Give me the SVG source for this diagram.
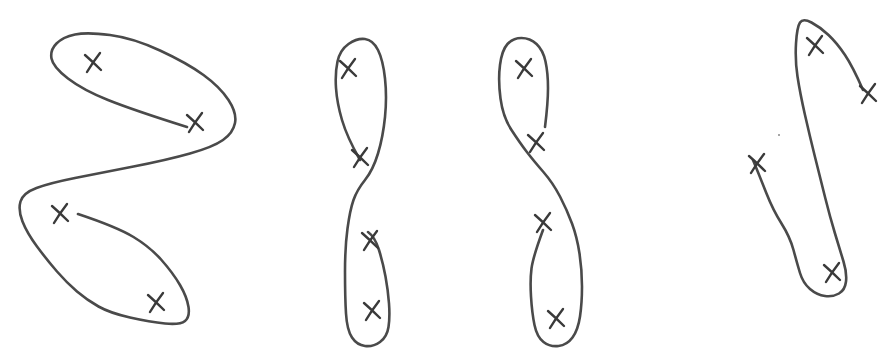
<svg xmlns="http://www.w3.org/2000/svg" xmlns:xlink="http://www.w3.org/1999/xlink" width="895" height="361" viewBox="0 0 895 361">
<style>
.curve{fill:none;stroke:#4a4a4a;stroke-width:2.6;stroke-linecap:round;stroke-linejoin:round}
.mark{fill:none;stroke:#3a3a3a;stroke-width:2.4;stroke-linecap:round}
</style>
<defs>
<path id="x" class="mark" d="M-8,-7 Q0,0 8,8 M7,-9 Q0,0 -6,10"/>
</defs>
<rect width="895" height="361" fill="#ffffff"/>
<g id="figure1">
<path class="curve" d="M187,127 Q133,110 108,100 Q83,90 68,78.5 Q53,67 51.5,58.5 Q50,50 56.5,43.5 Q63,37 75,34.5 Q87,32 110,35 Q133,38 160,50.5 Q187,63 203.5,75 Q220,87 228.5,100 Q237,113 235,123 Q233,133 223,140 Q213,147 190,153.5 Q167,160 133.5,166.5 Q100,173 75,178 Q50,183 36.5,188 Q23,193 20.5,201.5 Q18,210 22.5,221.5 Q27,233 37,246.5 Q47,260 57,271.5 Q67,283 77,291.5 Q87,300 98.5,306.5 Q110,313 130,317.5 Q150,322 165,323.5 Q180,325 185,321 Q190,317 188.5,307 Q187,297 180,285 Q173,273 161.5,260 Q150,247 133.5,237 Q117,227 78,214"/>
<use xlink:href="#x" transform="translate(93,62)"/>
<use xlink:href="#x" transform="translate(195,122)"/>
<use xlink:href="#x" transform="translate(60,213)"/>
<use xlink:href="#x" transform="translate(156,302)"/>
</g>
<g id="figure2">
<path class="curve" d="M360,160 Q347,137 342,120 Q337,103 336,88 Q335,73 337.5,61.5 Q340,50 348.5,44 Q357,38 365,39 Q373,40 378,50 Q383,60 385,78.5 Q387,97 385,117 Q383,137 378,153.5 Q373,170 365,180 Q357,190 353.5,200 Q350,210 347.5,228.5 Q345,247 345,272 Q345,297 346,313.5 Q347,330 352,337.5 Q357,345 365,346 Q373,347 380,342 Q387,337 388.5,327 Q390,317 389,303.5 Q388,290 385.5,276.5 Q383,263 379,250 Q375,237 368,232"/>
<use xlink:href="#x" transform="translate(348,68)"/>
<use xlink:href="#x" transform="translate(360,157)"/>
<use xlink:href="#x" transform="translate(370,240)"/>
<use xlink:href="#x" transform="translate(372,310)"/>
</g>
<g id="figure3">
<path class="curve" d="M545,127 Q548,103 548,88 Q548,73 545.5,61.5 Q543,50 536.5,44 Q530,38 521.5,38 Q513,38 507.5,44 Q502,50 500,65 Q498,80 500.5,98.5 Q503,117 511.5,130 Q520,143 526.5,151.5 Q533,160 543,171.5 Q553,183 560,196.5 Q567,210 572,223.5 Q577,237 579.5,253.5 Q582,270 582,286.5 Q582,303 580,316.5 Q578,330 572.5,337.5 Q567,345 558.5,346 Q550,347 543.5,342 Q537,337 534.5,325 Q532,313 531,296.5 Q530,280 531.5,268.5 Q533,257 543,230"/>
<use xlink:href="#x" transform="translate(524,68)"/>
<use xlink:href="#x" transform="translate(536,142)"/>
<use xlink:href="#x" transform="translate(543,222)"/>
<use xlink:href="#x" transform="translate(556,318)"/>
</g>
<g id="figure4">
<path class="curve" d="M863,90 Q853,67 845,55 Q837,43 828.5,35 Q820,27 811.5,22.5 Q803,18 800,22.5 Q797,27 796,43.5 Q795,60 797.5,76.5 Q800,93 805,115 Q810,137 815,157 Q820,177 825,197 Q830,217 835,233.5 Q840,250 843.5,261.5 Q847,273 846,281.5 Q845,290 839,293.5 Q833,297 825,296 Q817,295 810,289 Q803,283 800,273 Q797,263 793.5,250 Q790,237 781.5,223.5 Q773,210 766.5,193.5 Q760,177 753,160"/>
<use xlink:href="#x" transform="translate(815,45)"/>
<use xlink:href="#x" transform="translate(868,93)"/>
<use xlink:href="#x" transform="translate(757,163)"/>
<use xlink:href="#x" transform="translate(832,272)"/>
<circle cx="779" cy="135" r="1" fill="#888"/>
</g>
<g id="connectors"/>
</svg>
